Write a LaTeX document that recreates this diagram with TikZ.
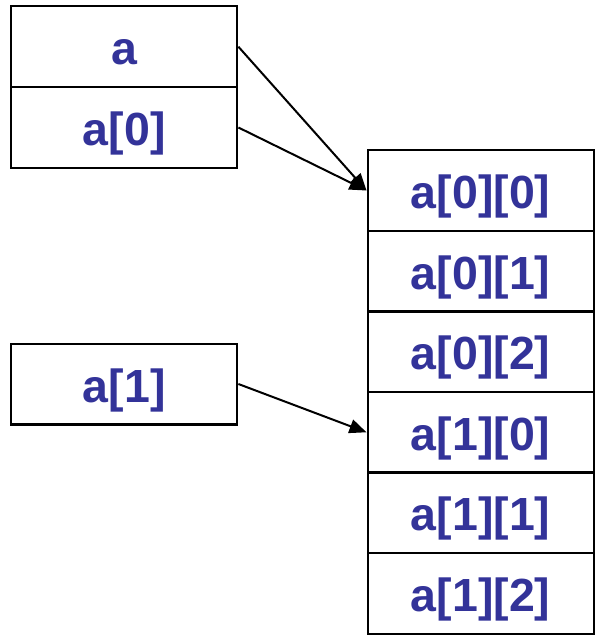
\documentclass[tikz,border=0pt]{standalone}
\usepackage{fontspec}
\setmainfont{Liberation Sans}
\usetikzlibrary{arrows.meta}
\definecolor{txtblue}{RGB}{51,51,153}
\begin{document}
\begin{tikzpicture}[x=1pt,y=-1pt,
  cell/.style={draw=black, line width=2.4pt, minimum width=226pt, minimum height=80.6pt,
    inner sep=0pt, anchor=north west, text=txtblue, text height=36pt, text depth=0pt,
    font=\fontsize{46.5}{46.5}\selectfont\bfseries},
  ptr/.style={line width=2pt, -{Triangle[length=17pt,width=14pt]}}]
\useasboundingbox (0,0) rectangle (596,635);
\node[cell, minimum height=81pt] (a) at (10,5) {a};
\node[cell] (a0) at (10,86) {a[0]};
\node[cell] (a1) at (10,342.5) {a[1]};
\node[cell] (a00) at (366.5,149) {a[0][0]};
\node[cell] (a01) at (366.5,229.6) {a[0][1]};
\node[cell] (a02) at (366.5,310.2) {a[0][2]};
\node[cell] (a10) at (366.5,390.8) {a[1][0]};
\node[cell] (a11) at (366.5,471.4) {a[1][1]};
\node[cell] (a12) at (366.5,552) {a[1][2]};
\draw[ptr] (a.east) -- (a00.west);
\draw[ptr] (a0.east) -- (a00.west);
\draw[ptr] (a1.east) -- (a10.west);
\end{tikzpicture}
\end{document}
